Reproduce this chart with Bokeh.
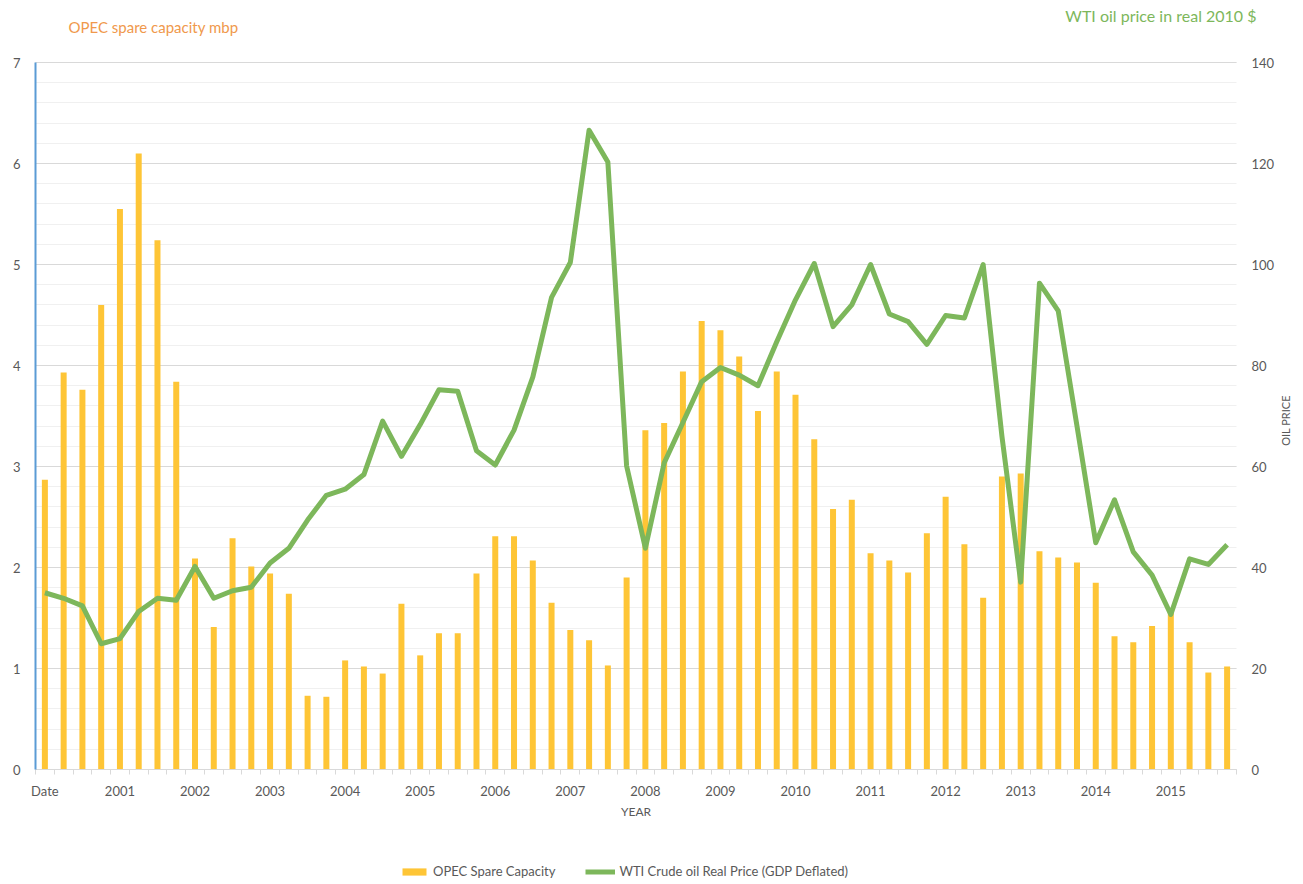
import math
from bokeh.plotting import figure
from bokeh.models import (Range1d, LinearAxis, FixedTicker, SingleIntervalTicker,
                          Legend, LegendItem, Label, ColumnDataSource)
from bokeh.embed import file_html
from bokeh.resources import INLINE

# ---- data -------------------------------------------------------------
quarters = [f"{y} Q{q}" for y in range(2000, 2016) for q in range(1, 5)]

tick_labels = ["Date", "2001", "2002", "2003", "2004", "2005", "2006", "2007",
               "2008", "2009", "2010", "2011", "2012", "2013", "2014", "2015"]

spare_capacity = [
    2.87, 3.93, 3.76, 4.60,
    5.55, 6.10, 5.24, 3.84,
    2.09, 1.41, 2.29, 2.01,
    1.94, 1.74, 0.73, 0.72,
    1.08, 1.02, 0.95, 1.64,
    1.13, 1.35, 1.35, 1.94,
    2.31, 2.31, 2.07, 1.65,
    1.38, 1.28, 1.03, 1.90,
    3.36, 3.43, 3.94, 4.44,
    4.35, 4.09, 3.55, 3.94,
    3.71, 3.27, 2.58, 2.67,
    2.14, 2.07, 1.95, 2.34,
    2.70, 2.23, 1.70, 2.90,
    2.93, 2.16, 2.10, 2.05,
    1.85, 1.32, 1.26, 1.42,
    1.55, 1.26, 0.96, 1.02,
]

wti_price = [
    35.0, 33.9, 32.4, 24.9,
    25.9, 31.3, 33.9, 33.5,
    40.2, 33.9, 35.4, 36.1,
    40.9, 43.8, 49.4, 54.3,
    55.5, 58.4, 69.0, 62.0,
    68.3, 75.2, 74.9, 63.1,
    60.3, 67.2, 77.7, 93.5,
    100.4, 126.6, 120.3, 60.1,
    43.8, 60.7, 68.7, 76.8,
    79.6, 78.1, 76.0, 84.7,
    93.0, 100.2, 87.7, 92.0,
    100.0, 90.2, 88.7, 84.2,
    89.9, 89.4, 100.0, 66.0,
    37.1, 96.3, 90.8, 68.0,
    44.9, 53.4, 43.1, 38.5,
    30.7, 41.7, 40.6, 44.5,
]

src = ColumnDataSource(dict(
    x=list(range(len(quarters))),
    quarter=quarters,
    spare=spare_capacity,
    price=wti_price,
))

FONT = "Lato"
GREY_TXT = "#595959"

# ---- layout constants (pixels) -----------------------------------------
W, H = 1300, 882
PLOT_LEFT, PLOT_RIGHT = 35, 1236        # edges of the category band
PLOT_TOP, PLOT_BOTTOM = 62, 769         # where 7 and 0 sit on the left axis
N = len(quarters)
PX_X = (PLOT_RIGHT - PLOT_LEFT) / N
PX_Y = (PLOT_BOTTOM - PLOT_TOP) / 7.0
x_lo = -0.5 - PLOT_LEFT / PX_X
x_hi = N - 0.5 + (W - PLOT_RIGHT) / PX_X
y_lo = -(H - PLOT_BOTTOM) / PX_Y
y_hi = 7 + PLOT_TOP / PX_Y

p = figure(width=W, height=H,
           x_range=Range1d(x_lo, x_hi),
           y_range=Range1d(y_lo, y_hi),
           output_backend="svg", toolbar_location=None,
           min_border_left=0, min_border_right=0,
           min_border_top=0, min_border_bottom=0)
p.outline_line_color = None
p.background_fill_color = "white"
p.extra_y_ranges = {"price": Range1d(y_lo * 20, y_hi * 20)}

bars = p.vbar(x="x", top="spare", width=0.32, source=src,
              fill_color="#FEC536", line_color=None)
line = p.line(x="x", y="price", source=src, y_range_name="price",
              line_color="#7DB75B", line_width=5, line_join="round")

# ---- x axis (drawn at value 0) ---------------------------------------
xa = p.xaxis[0]
xa.fixed_location = 0
xa.bounds = (-0.5, N - 0.5)
xa.ticker = FixedTicker(ticks=list(range(0, N, 4)),
                        minor_ticks=[i - 0.5 for i in range(N + 1)])
xa.major_label_overrides = {i * 4: lab for i, lab in enumerate(tick_labels)}
xa.major_tick_line_color = None
xa.major_tick_out = 0
xa.major_tick_in = 0
xa.minor_tick_line_color = "#D9D9D9"
xa.minor_tick_out = 5
xa.minor_tick_in = 0
xa.axis_line_color = "#D9D9D9"
xa.major_label_standoff = 8
xa.major_label_text_font = FONT
xa.major_label_text_font_size = "13px"
xa.major_label_text_color = GREY_TXT
xa.axis_label = "YEAR"
xa.axis_label_text_font = FONT
xa.axis_label_text_font_size = "12px"
xa.axis_label_text_font_style = "normal"
xa.axis_label_text_color = GREY_TXT
xa.axis_label_standoff = 2

# ---- left y axis -----------------------------------------------------
ya = p.yaxis[0]
ya.fixed_location = -0.5
ya.ticker = SingleIntervalTicker(interval=1, num_minor_ticks=5)
ya.bounds = (0, 7)
ya.major_tick_line_color = None
ya.minor_tick_line_color = None
ya.axis_line_color = "#5B9BD5"
ya.axis_line_width = 2
ya.major_label_standoff = 9
ya.major_label_text_font = FONT
ya.major_label_text_font_size = "13px"
ya.major_label_text_color = GREY_TXT

# ---- right y axis ----------------------------------------------------
ra = LinearAxis(y_range_name="price",
                ticker=SingleIntervalTicker(interval=20, num_minor_ticks=0),
                bounds=(0, 140), fixed_location=N - 0.5)
ra.axis_line_color = None
ra.major_tick_line_color = None
ra.minor_tick_line_color = None
ra.major_label_standoff = 9
ra.major_label_text_font = FONT
ra.major_label_text_font_size = "13px"
ra.major_label_text_color = GREY_TXT
p.add_layout(ra, "right")

p.add_layout(Label(x=1285, y=H - 420, x_units="screen", y_units="screen",
                   text="OIL PRICE", text_font=FONT, text_font_size="11px",
                   text_color=GREY_TXT, angle=math.pi / 2,
                   text_align="center", text_baseline="middle"))

# ---- grid ------------------------------------------------------------
p.xgrid.visible = False
yg = p.ygrid[0]
yg.bounds = (0, 7)
if "cross_bounds" in yg.properties():
    yg.cross_bounds = (-0.5, N - 0.5)
yg.grid_line_color = "#D9D9D9"
yg.grid_line_width = 1
yg.minor_grid_line_color = "#F0F0F0"
yg.minor_grid_line_width = 1

# ---- titles ----------------------------------------------------------
p.add_layout(Label(x=68, y=H - 26, x_units="screen", y_units="screen",
                   text="OPEC spare capacity mbp", text_font=FONT,
                   text_font_size="15px", text_color="#F0994C",
                   text_baseline="middle", text_align="left"))
p.add_layout(Label(x=1256, y=H - 15, x_units="screen", y_units="screen",
                   text="WTI oil price in real 2010 $", text_font=FONT,
                   text_font_size="16px", text_color="#7DB75B",
                   text_baseline="middle", text_align="right"))

# ---- legend ----------------------------------------------------------
legend = Legend(items=[LegendItem(label="OPEC Spare Capacity", renderers=[bars]),
                       LegendItem(label="WTI Crude oil Real Price (GDP Deflated)",
                                  renderers=[line])],
                location=(399, 3), orientation="horizontal",
                glyph_width=30, glyph_height=9, label_height=14,
                label_standoff=4, spacing=30, padding=0, margin=0,
                border_line_color=None, background_fill_alpha=0,
                label_text_font=FONT, label_text_font_size="13px",
                label_text_color=GREY_TXT)
p.add_layout(legend, "center")

open("out.html", "w").write(file_html(p, INLINE))
